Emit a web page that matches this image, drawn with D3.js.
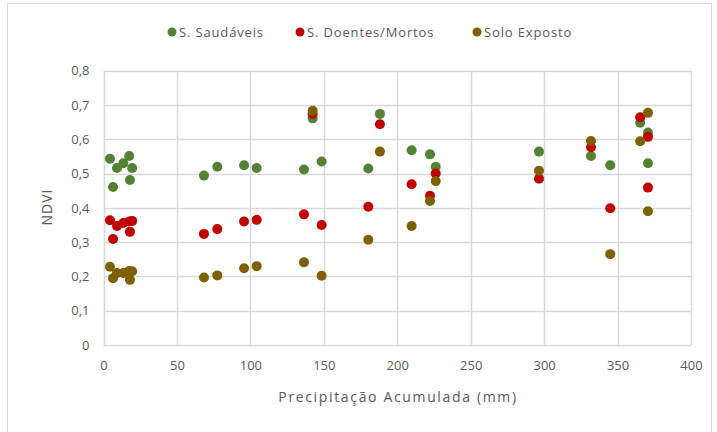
<!DOCTYPE html>
<html><head><meta charset="utf-8">
<script src="https://cdn.jsdelivr.net/npm/d3@7"></script>
<style>body{margin:0;background:#fff;} text{font-family:Lato,"Noto Sans",sans-serif;fill:#595959;}</style>
</head><body><svg id="c" width="717" height="432"></svg>
<script>
const precipitacao = [4.4, 6.5, 9.2, 13.5, 17.5, 18, 19.5, 68.4, 77.5, 95.7, 104.3, 136.5, 142.4, 148.5, 180.3, 188.2, 209.8, 222.3, 226.2, 296.5, 331.9, 345, 365.4, 370.7, 370.7];
const saudaveis = [0.543, 0.461, 0.516, 0.53, 0.551, 0.481, 0.516, 0.494, 0.52, 0.524, 0.516, 0.512, 0.661, 0.535, 0.515, 0.674, 0.568, 0.556, 0.52, 0.564, 0.551, 0.524, 0.648, 0.62, 0.53];
const doentes = [0.364, 0.309, 0.347, 0.356, 0.36, 0.33, 0.362, 0.324, 0.338, 0.36, 0.365, 0.381, 0.674, 0.35, 0.403, 0.644, 0.469, 0.435, 0.50, 0.485, 0.577, 0.399, 0.664, 0.607, 0.459];
const soloExposto = [0.228, 0.195, 0.21, 0.21, 0.216, 0.19, 0.215, 0.197, 0.203, 0.224, 0.23, 0.241, 0.683, 0.202, 0.307, 0.564, 0.347, 0.42, 0.478, 0.508, 0.595, 0.265, 0.594, 0.677, 0.39];
const seriesNames = ["S. Saudáveis", "S. Doentes/Mortos", "Solo Exposto"];
const seriesColors = ["#548235", "#c00000", "#7f6000"];
const xTicks = [0, 50, 100, 150, 200, 250, 300, 350, 400];
const yTicks = [0, 0.1, 0.2, 0.3, 0.4, 0.5, 0.6, 0.7, 0.8];

const series = [saudaveis, doentes, soloExposto];
const svg = d3.select("#c");
// outer frame
svg.append("rect").attr("x", 7.5).attr("y", 3.5).attr("width", 704).attr("height", 440)
  .attr("fill", "none").attr("stroke", "#d9d9d9");

const x = d3.scaleLinear().domain([0, 400]).range([103.5, 691]);
const y = d3.scaleLinear().domain([0, 0.8]).range([345, 70.7]);

const grid = svg.append("g");
grid.selectAll("line.v").data(xTicks).join("line").attr("class","v")
  .attr("x1", d => Math.round(x(d)) + 0.5).attr("x2", d => Math.round(x(d)) + 0.5)
  .attr("y1", y(0.8)).attr("y2", y(0)).attr("stroke", "#d9d9d9").attr("stroke-width", 1.5);
grid.selectAll("line.h").data(yTicks).join("line").attr("class","h")
  .attr("y1", d => Math.round(y(d)) + 0.5).attr("y2", d => Math.round(y(d)) + 0.5)
  .attr("x1", x(0)).attr("x2", x(400)).attr("stroke", "#d9d9d9").attr("stroke-width", 1.5);

const fmt = d => d === 0 ? "0" : d3.format(".1f")(d).replace(".", ",");
const yAxis = d3.axisLeft(y).tickValues(yTicks).tickFormat(fmt).tickSize(0).tickPadding(14);
const gy = svg.append("g").attr("transform", `translate(${x(0)},0)`).call(yAxis);
gy.select(".domain").remove();
gy.selectAll("text").style("font-size", "13px").style("font-family", "'Open Sans',sans-serif").attr("fill", "#595959");

const xAxis = d3.axisBottom(x).tickValues(xTicks).tickFormat(d3.format("d")).tickSize(0).tickPadding(16);
const gx = svg.append("g").attr("transform", `translate(0,${y(0)})`).call(xAxis);
gx.select(".domain").remove();
gx.selectAll("text").style("font-size", "13px").style("font-family", "'Open Sans',sans-serif").attr("fill", "#595959");

// points
series.forEach((vals, si) => {
  svg.append("g").selectAll("circle").data(vals).join("circle")
    .attr("cx", (d, i) => x(precipitacao[i])).attr("cy", d => y(d))
    .attr("r", 5).attr("fill", seriesColors[si]);
});

// axis titles
svg.append("text").attr("x", 398).attr("y", 402).attr("text-anchor", "middle")
  .style("font-family", "'Open Sans',sans-serif").style("font-size", "14px").style("letter-spacing", "1.65px")
  .text("Precipitação Acumulada (mm)");
svg.append("text").attr("transform", "translate(52,207) rotate(-90)").attr("text-anchor", "middle")
  .style("font-family", "'Open Sans',sans-serif").style("font-size", "14px").style("letter-spacing", "1px")
  .text("NDVI");

// legend
const legX = [172, 300, 477];
const leg = svg.append("g");
seriesNames.forEach((n, i) => {
  leg.append("circle").attr("cx", legX[i]).attr("cy", 32).attr("r", 4.5).attr("fill", seriesColors[i]);
  leg.append("text").attr("x", legX[i] + 7).attr("y", 37)
    .style("font-family", "'Open Sans',sans-serif").style("font-size", "13px").style("letter-spacing", "0.85px")
    .text(n);
});
</script></body></html>
